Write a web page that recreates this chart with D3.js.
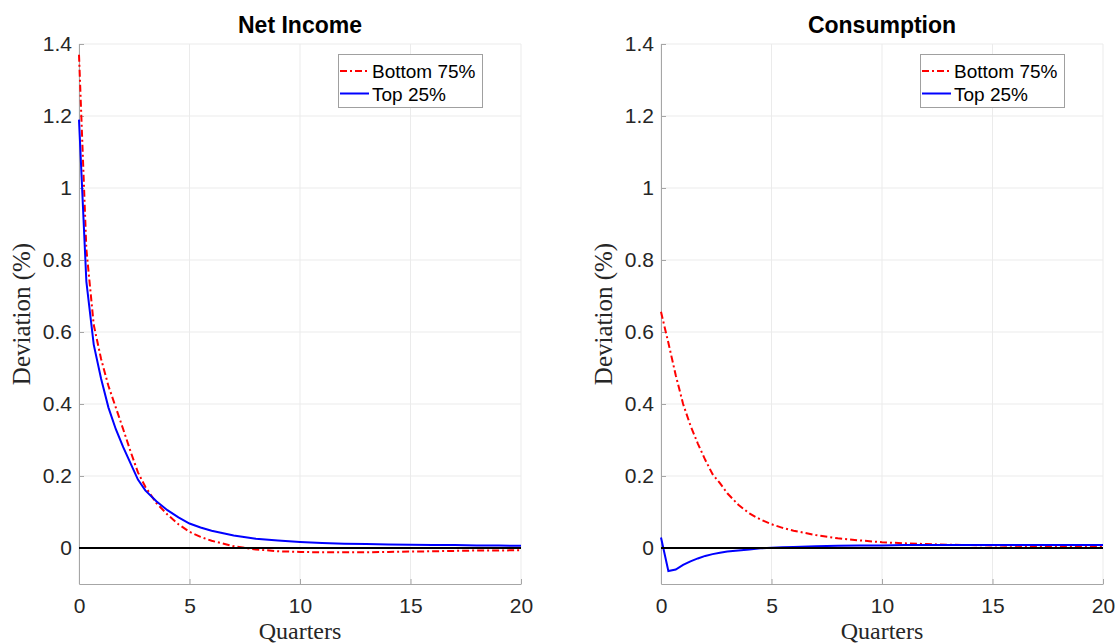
<!DOCTYPE html>
<html>
<head>
<meta charset="utf-8">
<script src="https://cdn.jsdelivr.net/npm/d3@7"></script>
<style>
  body { margin: 0; background: #fff; }
  svg { display: block; }
</style>
</head>
<body>
<svg width="1117" height="644"></svg>
<script>
// quarters after the shock (monthly steps early on)
const quarters = [0, 1 / 3, 2 / 3, 1, 4 / 3, 5 / 3, 2, 7 / 3, 8 / 3, 3, 3.5, 4, 4.5, 5, 5.5, 6,
  7, 8, 9, 10, 11, 12, 13, 14, 15, 16, 17, 18, 19, 20];

// Net income, deviation in %
const incomeBottom = [1.37, 0.83, 0.62, 0.525, 0.45, 0.39, 0.33, 0.268, 0.21, 0.170, 0.125, 0.093, 0.066, 0.045, 0.031, 0.020,
  0.005, -0.004, -0.009, -0.011, -0.012, -0.012, -0.012, -0.011, -0.010, -0.009, -0.008, -0.007, -0.007, -0.006];
const incomeTop = [1.19, 0.74, 0.565, 0.47, 0.39, 0.33, 0.28, 0.235, 0.19, 0.160, 0.13, 0.105, 0.085, 0.068, 0.057, 0.048,
  0.035, 0.026, 0.021, 0.017, 0.014, 0.012, 0.011, 0.010, 0.009, 0.008, 0.008, 0.007, 0.007, 0.006];

// Consumption, deviation in %
const consBottom = [0.656, 0.57, 0.48, 0.40, 0.34, 0.29, 0.245, 0.205, 0.18, 0.152, 0.12, 0.096, 0.079, 0.066, 0.056, 0.048,
  0.036, 0.027, 0.021, 0.016, 0.013, 0.011, 0.009, 0.008, 0.007, 0.006, 0.005, 0.005, 0.004, 0.004];
const consTop = [0.029, -0.064, -0.060, -0.047, -0.037, -0.029, -0.022, -0.017, -0.013, -0.010, -0.007, -0.004, -0.001, 0.001, 0.002, 0.003,
  0.005, 0.006, 0.007, 0.007, 0.008, 0.008, 0.008, 0.008, 0.008, 0.008, 0.008, 0.008, 0.008, 0.008];

const xTicks = [0, 5, 10, 15, 20];
const yTicks = [0, 0.2, 0.4, 0.6, 0.8, 1, 1.2, 1.4];
const seriesNames = ['Bottom 75%', 'Top 25%'];

const panels = [
  { title: 'Net Income', left: 79, right: 521, bottom: incomeBottom, top: incomeTop },
  { title: 'Consumption', left: 661, right: 1103, bottom: consBottom, top: consTop }
];

const svg = d3.select('svg');
const plotTop = 44;
const plotBottom = 584;
const sansFont = '"Liberation Sans", Arial, Helvetica, sans-serif';
const serifFont = '"Liberation Serif", "Times New Roman", serif';
const axisColor = '#a6a6a6';
const redDash = '7,3,2,3';

const y = d3.scaleLinear().domain([-0.1, 1.4]).range([plotBottom, plotTop]);

panels.forEach(p => {
  const x = d3.scaleLinear().domain([0, 20]).range([p.left, p.right]);
  const g = svg.append('g');

  // grid
  g.append('g')
    .selectAll('line')
    .data(xTicks)
    .enter()
    .append('line')
    .attr('x1', d => x(d))
    .attr('x2', d => x(d))
    .attr('y1', plotTop)
    .attr('y2', plotBottom)
    .attr('stroke', '#ebebeb')
    .attr('stroke-width', 1);
  g.append('g')
    .selectAll('line')
    .data(yTicks)
    .enter()
    .append('line')
    .attr('x1', p.left)
    .attr('x2', p.right)
    .attr('y1', d => y(d))
    .attr('y2', d => y(d))
    .attr('stroke', '#ebebeb')
    .attr('stroke-width', 1);

  // axes, ticks pointing inwards
  const yAxis = g.append('g')
    .attr('transform', `translate(${p.left},0)`)
    .call(d3.axisLeft(y).tickValues(yTicks).tickSize(-5).tickSizeOuter(0).tickPadding(7).tickFormat(d => String(d)));
  const xAxis = g.append('g')
    .attr('transform', `translate(0,${plotBottom})`)
    .call(d3.axisBottom(x).tickValues(xTicks).tickSize(-5).tickSizeOuter(0).tickPadding(14));
  [yAxis, xAxis].forEach(a => {
    a.select('.domain').attr('stroke', axisColor);
    a.selectAll('.tick line').attr('stroke', axisColor);
    a.selectAll('.tick text')
      .attr('fill', '#262626')
      .attr('font-family', sansFont)
      .attr('font-size', 21);
  });

  // curves
  const line = d3.line()
    .x((d, i) => x(quarters[i]))
    .y(d => y(d));
  g.append('path')
    .datum(p.bottom)
    .attr('d', line)
    .attr('fill', 'none')
    .attr('stroke', '#ff0000')
    .attr('stroke-width', 2)
    .attr('stroke-dasharray', redDash);
  g.append('path')
    .datum(p.top)
    .attr('d', line)
    .attr('fill', 'none')
    .attr('stroke', '#0000ff')
    .attr('stroke-width', 2);

  // zero line
  g.append('line')
    .attr('x1', x(0))
    .attr('x2', x(20))
    .attr('y1', y(0))
    .attr('y2', y(0))
    .attr('stroke', '#000')
    .attr('stroke-width', 2);

  // title and labels
  g.append('text')
    .attr('x', (p.left + p.right) / 2)
    .attr('y', 33)
    .attr('text-anchor', 'middle')
    .attr('font-family', sansFont)
    .attr('font-weight', 'bold')
    .attr('font-size', 23)
    .text(p.title);
  g.append('text')
    .attr('x', (p.left + p.right) / 2)
    .attr('y', 639)
    .attr('text-anchor', 'middle')
    .attr('font-family', serifFont)
    .attr('font-size', 24)
    .attr('fill', '#262626')
    .text('Quarters');
  g.append('text')
    .attr('transform', `translate(${p.left - 49},${(plotTop + plotBottom) / 2}) rotate(-90)`)
    .attr('text-anchor', 'middle')
    .attr('font-family', serifFont)
    .attr('font-size', 25)
    .attr('fill', '#262626')
    .text('Deviation (%)');

  // legend
  const lx = p.left + 259;
  const legend = g.append('g').attr('transform', `translate(${lx},54)`);
  legend.append('rect')
    .attr('x', 0.5)
    .attr('y', 0.5)
    .attr('width', 144)
    .attr('height', 53)
    .attr('fill', '#fff')
    .attr('stroke', '#a0a0a0');
  const rows = legend.selectAll('g.row')
    .data(seriesNames)
    .enter()
    .append('g')
    .attr('class', 'row')
    .attr('transform', (d, i) => `translate(0,${17 + i * 22.5})`);
  rows.append('line')
    .attr('x1', 2)
    .attr('x2', 31)
    .attr('stroke', (d, i) => (i === 0 ? '#ff0000' : '#0000ff'))
    .attr('stroke-width', 2)
    .attr('stroke-dasharray', (d, i) => (i === 0 ? redDash : null));
  rows.append('text')
    .attr('x', 34)
    .attr('y', 7)
    .attr('font-family', sansFont)
    .attr('font-size', 19)
    .attr('fill', '#000')
    .text(d => d);
});
</script>
</body>
</html>
